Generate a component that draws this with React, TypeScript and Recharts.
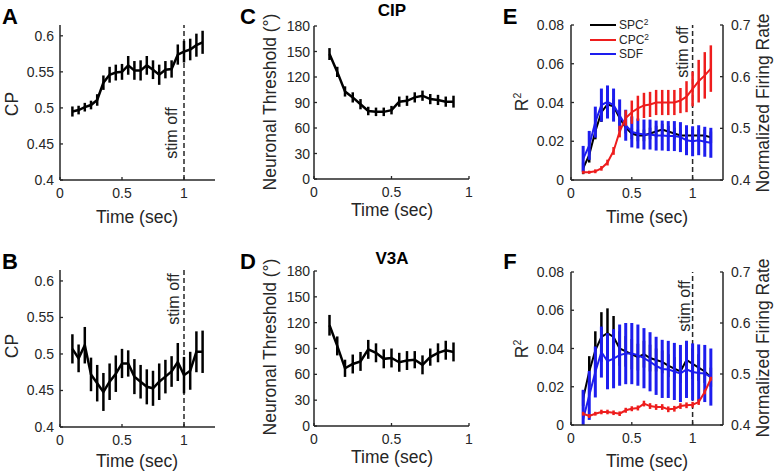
import React from "react";
import { LineChart, Line, XAxis, YAxis, ErrorBar, ReferenceLine } from "recharts";

const INK = "#262626";
const RED = "#ee1d1d";
const BLUE = "#1d1dee";
const FONT = '"Liberation Sans", Arial, Helvetica, sans-serif';

// time bins (sec)
const timeLong = [0.1, 0.15, 0.2, 0.25, 0.3, 0.35, 0.4, 0.45, 0.5, 0.55, 0.6, 0.65, 0.7, 0.75, 0.8, 0.85, 0.9, 0.95, 1.0, 1.05, 1.1, 1.15];
const timeShort = [0.1, 0.15, 0.2, 0.25, 0.3, 0.35, 0.4, 0.45, 0.5, 0.55, 0.6, 0.65, 0.7, 0.75, 0.8, 0.85, 0.9];

// A / B : choice probability
const cpA = [0.495, 0.497, 0.501, 0.504, 0.511, 0.535, 0.546, 0.549, 0.55, 0.559, 0.552, 0.552, 0.559, 0.553, 0.546, 0.553, 0.554, 0.574, 0.578, 0.581, 0.587, 0.591];
const cpAErr = [0.007, 0.006, 0.006, 0.006, 0.008, 0.01, 0.011, 0.011, 0.011, 0.013, 0.013, 0.014, 0.013, 0.013, 0.014, 0.012, 0.012, 0.014, 0.015, 0.015, 0.016, 0.016];
const cpB = [0.507, 0.494, 0.512, 0.472, 0.46, 0.448, 0.462, 0.473, 0.487, 0.487, 0.469, 0.462, 0.455, 0.453, 0.462, 0.469, 0.476, 0.489, 0.471, 0.477, 0.503, 0.503];
const cpBErr = [0.02, 0.019, 0.025, 0.023, 0.025, 0.026, 0.025, 0.025, 0.02, 0.018, 0.024, 0.023, 0.024, 0.024, 0.025, 0.023, 0.021, 0.026, 0.025, 0.026, 0.028, 0.029];

// C / D : neuronal threshold (deg)
const thrCIP = [147, 126, 103, 96, 88, 80, 79, 79, 81, 91, 92, 96, 98, 94, 93, 91, 91];
const thrCIPErr = [7, 6, 6, 6, 6, 5, 5, 5, 5, 6, 6, 6, 6, 6, 6, 6, 7];
const thrV3A = [117, 93, 67, 72, 75, 89, 85, 78, 79, 74, 76, 77, 71, 80, 85, 88, 86];
const thrV3AErr = [12, 11, 10, 11, 11, 11, 11, 11, 11, 11, 11, 10, 11, 10, 11, 11, 11];

// E : R^2 and firing rate
const spcE = [0.006, 0.013, 0.025, 0.035, 0.039, 0.038, 0.032, 0.027, 0.024, 0.023, 0.023, 0.024, 0.025, 0.026, 0.025, 0.024, 0.023, 0.023, 0.023, 0.023, 0.023, 0.022];
const spcEErr = [0.003, 0.004, 0.004, 0.005, 0.005, 0.004, 0.004, 0.003, 0.003, 0.003, 0.003, 0.003, 0.003, 0.003, 0.003, 0.003, 0.003, 0.003, 0.003, 0.003, 0.003, 0.003];
const cpcE = [0.004, 0.004, 0.0045, 0.006, 0.009, 0.015, 0.025, 0.032, 0.035, 0.037, 0.0385, 0.039, 0.04, 0.04, 0.04, 0.04, 0.041, 0.043, 0.047, 0.051, 0.054, 0.0575];
const cpcEErr = [0.0008, 0.0008, 0.001, 0.0012, 0.0015, 0.002, 0.003, 0.004, 0.006, 0.0065, 0.0065, 0.0065, 0.0065, 0.0065, 0.0065, 0.0065, 0.0065, 0.008, 0.009, 0.011, 0.012, 0.012];
const sdfE = [0.441, 0.467, 0.512, 0.545, 0.551, 0.545, 0.525, 0.506, 0.493, 0.49, 0.488, 0.488, 0.486, 0.486, 0.485, 0.485, 0.483, 0.477, 0.475, 0.477, 0.474, 0.472];
const sdfEErr = [0.025, 0.028, 0.03, 0.032, 0.032, 0.032, 0.031, 0.03, 0.03, 0.029, 0.029, 0.029, 0.029, 0.029, 0.029, 0.029, 0.029, 0.029, 0.029, 0.029, 0.029, 0.029];

// F : R^2 and firing rate
const spcF = [0.014, 0.028, 0.039, 0.046, 0.048, 0.046, 0.04, 0.0385, 0.037, 0.0355, 0.037, 0.035, 0.034, 0.033, 0.031, 0.0295, 0.028, 0.034, 0.032, 0.03, 0.028, 0.025];
const spcFErr = [0.004, 0.008, 0.01, 0.013, 0.013, 0.011, 0.009, 0.008, 0.008, 0.007, 0.007, 0.007, 0.006, 0.006, 0.006, 0.006, 0.006, 0.01, 0.008, 0.007, 0.006, 0.005];
const cpcF = [0.0059, 0.0047, 0.0059, 0.0068, 0.0068, 0.0064, 0.0059, 0.0077, 0.0085, 0.0089, 0.0112, 0.0099, 0.0094, 0.0094, 0.0082, 0.0085, 0.0099, 0.0103, 0.0106, 0.012, 0.0173, 0.0242];
const cpcFErr = [0.001, 0.001, 0.001, 0.0012, 0.0012, 0.0012, 0.0012, 0.0013, 0.0013, 0.0013, 0.0015, 0.0015, 0.0015, 0.0015, 0.0015, 0.0015, 0.0015, 0.0015, 0.0015, 0.0015, 0.0012, 0.001];
const sdfF = [0.412, 0.458, 0.504, 0.543, 0.525, 0.53, 0.537, 0.54, 0.54, 0.537, 0.531, 0.524, 0.516, 0.51, 0.509, 0.505, 0.501, 0.509, 0.504, 0.502, 0.501, 0.494];
const sdfFErr = [0.057, 0.048, 0.05, 0.05, 0.055, 0.058, 0.06, 0.06, 0.06, 0.06, 0.059, 0.058, 0.057, 0.057, 0.056, 0.056, 0.056, 0.056, 0.056, 0.056, 0.056, 0.056];

// tick labels
const timeTicks = [0, 0.5, 1];
const cpTicks = [0.4, 0.45, 0.5, 0.55, 0.6];
const thrTicks = [0, 30, 60, 90, 120, 150, 180];
const r2Ticks = [0, 0.02, 0.04, 0.06, 0.08];
const frTicks = [0.4, 0.5, 0.6, 0.7];

// error bars are not clipped by recharts, so cut the lower arm at the axis floor
const clipErr = (v: number, e: number, floor: number) => [Math.min(e, v - floor), e];

const cpRowsA = timeLong.map((t, i) => ({ t, v: cpA[i], e: cpAErr[i] }));
const cpRowsB = timeLong.map((t, i) => ({ t, v: cpB[i], e: cpBErr[i] }));
const thrRowsC = timeShort.map((t, i) => ({ t, v: thrCIP[i], e: thrCIPErr[i] }));
const thrRowsD = timeShort.map((t, i) => ({ t, v: thrV3A[i], e: thrV3AErr[i] }));
const r2RowsE = timeLong.map((t, i) => ({
  t, spc: spcE[i], spcErr: spcEErr[i], cpc: cpcE[i], cpcErr: cpcEErr[i], sdf: sdfE[i], sdfErr: clipErr(sdfE[i], sdfEErr[i], 0.4),
}));
const r2RowsF = timeLong.map((t, i) => ({
  t, spc: spcF[i], spcErr: spcFErr[i], cpc: cpcF[i], cpcErr: cpcFErr[i], sdf: sdfF[i], sdfErr: clipErr(sdfF[i], sdfFErr[i], 0.4),
}));

// ticks point inward like matlab
function XTick({ x, y, payload }: any) {
  return (
    <g>
      <line x1={x} x2={x} y1={y} y2={y - 3} stroke={INK} strokeWidth={1.3} />
      <text x={x} y={y + 18} textAnchor="middle" fontSize={14} fill={INK}>{String(payload.value)}</text>
    </g>
  );
}
function leftTick(gap: number) {
  return ({ x, y, payload }: any) => (
    <g>
      <line x1={x} x2={x + 3} y1={y} y2={y} stroke={INK} strokeWidth={1.3} />
      <text x={x - gap} y={y + 5} textAnchor="end" fontSize={14} fill={INK}>{String(payload.value)}</text>
    </g>
  );
}
function RightTick({ x, y, payload }: any) {
  return (
    <g>
      <line x1={x} x2={x - 3} y1={y} y2={y} stroke={INK} strokeWidth={1.3} />
      <text x={x + 8} y={y + 5} textAnchor="start" fontSize={14} fill={INK}>{String(payload.value)}</text>
    </g>
  );
}

const axisLine = { stroke: INK, strokeWidth: 1.5 };

function Txt({ x, y, rot, size = 17.5, bold, children }: any) {
  return (
    <div
      style={{
        position: "absolute", left: x, top: y, whiteSpace: "nowrap", fontSize: size, lineHeight: 1,
        fontWeight: bold ? 700 : 400, color: bold ? "#000" : INK,
        transform: `translate(-50%, -50%)${rot ? " rotate(-90deg)" : ""}`,
      }}
    >
      {children}
    </div>
  );
}

function SimplePanel({ left, top, width, plotTop, yw, xh, data, xMax, yDomain, yTicks, gap, stim }: any) {
  return (
    <div style={{ position: "absolute", left, top }}>
      <LineChart width={width} height={237} data={data} margin={{ top: plotTop, right: width - yw - 155, bottom: 0, left: 0 }}>
        <XAxis
          type="number" dataKey="t" domain={[0, xMax]} ticks={timeTicks} allowDataOverflow interval={0}
          height={xh} tickSize={0} tickMargin={0} tickLine={false} axisLine={axisLine} tick={<XTick />}
        />
        <YAxis
          type="number" domain={yDomain} ticks={yTicks} allowDataOverflow interval={0}
          width={yw} tickSize={0} tickMargin={0} tickLine={false} axisLine={axisLine} tick={leftTick(gap)}
        />
        {stim && <ReferenceLine x={1} stroke={INK} strokeWidth={1.5} strokeDasharray="5 3" />}
        <Line dataKey="v" stroke="#000" strokeWidth={2.5} dot={false} isAnimationActive={false}>
          <ErrorBar dataKey="e" direction="y" width={0} stroke="#000" strokeWidth={2.5} />
        </Line>
      </LineChart>
    </div>
  );
}

function R2Panel({ top, plotTop, xh, data }: any) {
  return (
    <div style={{ position: "absolute", left: 510, top }}>
      <LineChart width={267} height={237} data={data} margin={{ top: plotTop, right: 0, bottom: 0, left: 0 }}>
        <XAxis
          type="number" dataKey="t" domain={[0, 1.25]} ticks={timeTicks} allowDataOverflow interval={0}
          height={xh} tickSize={0} tickMargin={0} tickLine={false} axisLine={axisLine} tick={<XTick />}
        />
        <YAxis
          yAxisId="r2" type="number" domain={[0, 0.08]} ticks={r2Ticks} allowDataOverflow interval={0}
          width={61} tickSize={0} tickMargin={0} tickLine={false} axisLine={axisLine} tick={leftTick(7)}
        />
        <YAxis
          yAxisId="fr" orientation="right" type="number" domain={[0.4, 0.7]} ticks={frTicks} allowDataOverflow interval={0}
          width={54} tickSize={0} tickMargin={0} tickLine={false} axisLine={axisLine} tick={<RightTick />}
        />
        <ReferenceLine yAxisId="r2" x={1} stroke={INK} strokeWidth={1.5} strokeDasharray="5 3" />
        <Line yAxisId="r2" dataKey="spc" stroke="#000" strokeWidth={2} dot={false} isAnimationActive={false}>
          <ErrorBar dataKey="spcErr" direction="y" width={0} stroke="#000" strokeWidth={2.5} />
        </Line>
        <Line yAxisId="fr" dataKey="sdf" stroke={BLUE} strokeWidth={2} dot={false} isAnimationActive={false}>
          <ErrorBar dataKey="sdfErr" direction="y" width={0} stroke={BLUE} strokeWidth={3} />
        </Line>
        <Line yAxisId="r2" dataKey="cpc" stroke={RED} strokeWidth={2} dot={false} isAnimationActive={false}>
          <ErrorBar dataKey="cpcErr" direction="y" width={0} stroke={RED} strokeWidth={2.5} />
        </Line>
      </LineChart>
    </div>
  );
}

function LegendRow({ y, color, children }: any) {
  return (
    <div style={{ position: "absolute", left: 590, top: y - 8, height: 16, display: "flex", alignItems: "center", fontSize: 12, color: INK }}>
      <span style={{ width: 26, height: 2.5, background: color, display: "inline-block", marginRight: 3 }} />
      {children}
    </div>
  );
}

export default function App() {
  return (
    <div style={{ position: "absolute", left: 0, top: 0, width: 777, height: 474, background: "#fff", fontFamily: FONT, overflow: "hidden" }}>
      <SimplePanel left={0} top={0} width={230} plotTop={25} yw={60} xh={57} data={cpRowsA} xMax={1.25} yDomain={[0.4, 0.615]} yTicks={cpTicks} gap={6} stim />
      <SimplePanel left={0} top={237} width={230} plotTop={33} yw={60} xh={47} data={cpRowsB} xMax={1.25} yDomain={[0.4, 0.615]} yTicks={cpTicks} gap={6} stim />
      <SimplePanel left={260} top={0} width={225} plotTop={26} yw={54} xh={58} data={thrRowsC} xMax={1} yDomain={[0, 180]} yTicks={thrTicks} gap={4} />
      <SimplePanel left={260} top={237} width={225} plotTop={34} yw={54} xh={48} data={thrRowsD} xMax={1} yDomain={[0, 180]} yTicks={thrTicks} gap={4} />
      <R2Panel top={0} plotTop={25} xh={57} data={r2RowsE} />
      <R2Panel top={237} plotTop={35} xh={49} data={r2RowsF} />

      {/* panel letters and titles */}
      <Txt x={10} y={17} size={22} bold>A</Txt>
      <Txt x={10} y={262} size={22} bold>B</Txt>
      <Txt x={248} y={17} size={22} bold>C</Txt>
      <Txt x={248} y={262} size={22} bold>D</Txt>
      <Txt x={510} y={17} size={22} bold>E</Txt>
      <Txt x={510} y={262} size={22} bold>F</Txt>
      <Txt x={392} y={10} size={17} bold>CIP</Txt>
      <Txt x={392} y={258} size={17} bold>V3A</Txt>

      {/* axis titles */}
      <Txt x={13} y={104} rot>CP</Txt>
      <Txt x={13} y={346} rot>CP</Txt>
      <Txt x={271} y={102} rot>Neuronal Threshold (°)</Txt>
      <Txt x={271} y={347} rot>Neuronal Threshold (°)</Txt>
      <Txt x={522} y={102} rot>R<sup style={{ fontSize: "0.6em" }}>2</sup></Txt>
      <Txt x={522} y={349} rot>R<sup style={{ fontSize: "0.6em" }}>2</sup></Txt>
      <Txt x={764} y={103} rot>Normalized Firing Rate</Txt>
      <Txt x={764} y={348} rot>Normalized Firing Rate</Txt>
      <Txt x={137} y={218}>Time (sec)</Txt>
      <Txt x={137} y={462}>Time (sec)</Txt>
      <Txt x={392} y={211}>Time (sec)</Txt>
      <Txt x={392} y={458}>Time (sec)</Txt>
      <Txt x={647} y={218}>Time (sec)</Txt>
      <Txt x={647} y={462}>Time (sec)</Txt>

      {/* stim off marks */}
      <Txt x={172} y={133} size={16} rot>stim off</Txt>
      <Txt x={174} y={299} size={16} rot>stim off</Txt>
      <Txt x={683} y={52} size={16} rot>stim off</Txt>
      <Txt x={685} y={306} size={16} rot>stim off</Txt>

      {/* legend for E */}
      <LegendRow y={25} color="#000">SPC<sup style={{ fontSize: "0.7em", marginTop: -6 }}>2</sup></LegendRow>
      <LegendRow y={40} color={RED}>CPC<sup style={{ fontSize: "0.7em", marginTop: -6 }}>2</sup></LegendRow>
      <LegendRow y={54} color={BLUE}>SDF</LegendRow>
    </div>
  );
}
